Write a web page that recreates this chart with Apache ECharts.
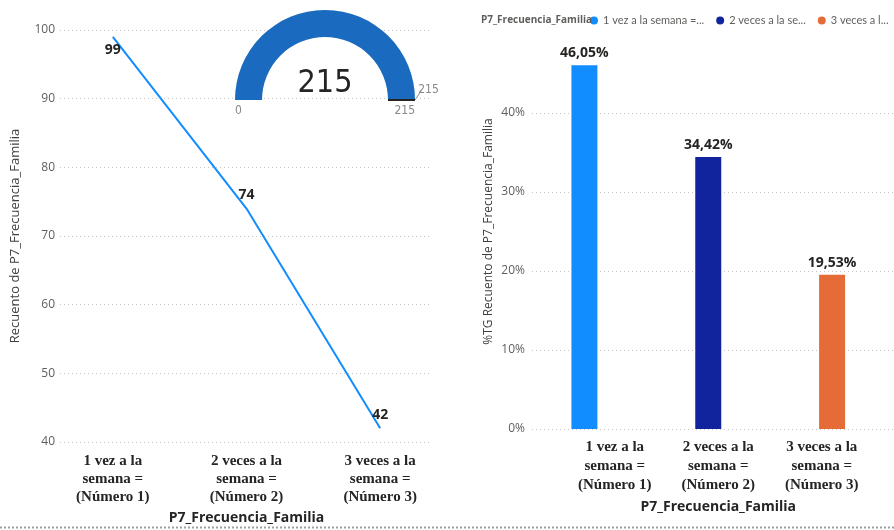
<!DOCTYPE html>
<html>
<head>
<meta charset="utf-8">
<script src="https://cdn.jsdelivr.net/npm/echarts@6/dist/echarts.min.js"></script>
<style>
  html, body { margin: 0; padding: 0; background: #ffffff; }
  #chart { width: 894px; height: 530px; }
</style>
</head>
<body>
<div id="chart"></div>
<script>
// Frequency of family contact: category names, counts and share of total
const categories = [
  '1 vez a la semana = (Número 1)',
  '2 veces a la semana = (Número 2)',
  '3 veces a la semana = (Número 3)'
];
const categoryLabels = [
  '1 vez a la\nsemana =\n(Número 1)',
  '2 veces a la\nsemana =\n(Número 2)',
  '3 veces a la\nsemana =\n(Número 3)'
];
const counts = [99, 74, 42];
const countLabelPos = ['bottom', 'top', 'top'];
const totalCount = [215];
const gaugeRange = [0, 215];
const gaugeTarget = [215];
const sharePct = [46.05, 34.42, 19.53];
const barColors = ['#118DFF', '#12239E', '#E66C37'];
const legendTextWidths = [104, 82, 64];
const countAxis = { min: 40, max: 100, step: 10 };
const pctAxis = { min: 0, max: 50, step: 10 };

const fieldName = 'P7_Frecuencia_Familia';
const SANS = '"Segoe UI", "Open Sans", "Noto Sans", sans-serif';
const SMALL = '"Segoe UI", Lato, "Open Sans", sans-serif';
const SERIF = '"Times New Roman", "Liberation Serif", serif';
const NARROW = '"Liberation Sans Narrow", "DejaVu Sans Condensed", sans-serif';
const gridLine = { lineStyle: { color: '#C8C6C4', type: [1, 3], width: 1 } };

const chart = echarts.init(document.getElementById('chart'), null, { renderer: 'canvas' });

const pctFmt = v => v.toFixed(2).replace('.', ',') + '%';

const option = {
  animation: false,
  backgroundColor: '#ffffff',
  title: {
    text: fieldName,
    left: 481, top: 15, padding: 0,
    textStyle: { fontFamily: SANS, fontSize: 10, fontWeight: 'bold', color: '#605E5C' }
  },
  legend: {
    left: 590, top: 15, padding: 0,
    icon: 'circle', itemWidth: 8, itemHeight: 8, itemGap: 12,
    textStyle: { fontFamily: SMALL, fontSize: 11, color: '#605E5C' },
    data: categories.map((name, i) => ({
      name,
      textStyle: { width: legendTextWidths[i], overflow: 'truncate', ellipsis: '...' }
    }))
  },
  grid: [
    // left chart: gridline frame, then data area
    { left: 60, right: 462, top: 30, bottom: 88 },
    { left: 46, right: 447, top: 30, bottom: 88 },
    // right chart: gridline frame, bar area, category label area
    { left: 532, right: 0, top: 34, bottom: 101 },
    { left: 522.5, width: 387, top: 34, bottom: 101 },
    { left: 563, width: 310.5, top: 34, bottom: 101 }
  ],
  xAxis: [
    { gridIndex: 0, type: 'category', data: categories, show: false },
    {
      gridIndex: 1, type: 'category', data: categoryLabels, boundaryGap: true,
      axisLine: { show: false }, axisTick: { show: false },
      axisLabel: { fontFamily: SERIF, fontWeight: 'bold', fontSize: 15, lineHeight: 18, color: '#252423', margin: 10 },
      name: fieldName, nameLocation: 'middle', nameGap: 64,
      nameTextStyle: { fontFamily: SANS, fontWeight: 'bold', fontSize: 14, color: '#252423' }
    },
    { gridIndex: 2, type: 'category', data: categories, show: false },
    { gridIndex: 3, type: 'category', data: categories, show: false },
    {
      gridIndex: 4, type: 'category', data: categoryLabels, boundaryGap: true,
      axisLine: { show: false }, axisTick: { show: false },
      axisLabel: { fontFamily: SERIF, fontWeight: 'bold', fontSize: 15, lineHeight: 19, color: '#252423', margin: 9 },
      name: fieldName, nameLocation: 'middle', nameGap: 61,
      nameTextStyle: { fontFamily: SANS, fontWeight: 'bold', fontSize: 14, color: '#252423' }
    }
  ],
  yAxis: [
    {
      gridIndex: 0, type: 'value', min: countAxis.min, max: countAxis.max, interval: countAxis.step,
      axisLine: { show: false }, axisTick: { show: false },
      axisLabel: { fontFamily: SANS, fontSize: 12, color: '#605E5C', margin: 5 },
      splitLine: gridLine,
      name: 'Recuento de ' + fieldName, nameLocation: 'middle', nameGap: 38,
      nameTextStyle: { fontFamily: SANS, fontSize: 13, color: '#404040' }
    },
    { gridIndex: 1, type: 'value', min: countAxis.min, max: countAxis.max, show: false },
    {
      gridIndex: 2, type: 'value', min: pctAxis.min, max: pctAxis.max, interval: pctAxis.step,
      axisLine: { show: false }, axisTick: { show: false },
      axisLabel: { fontFamily: SANS, fontSize: 12, color: '#605E5C', margin: 7, formatter: '{value}%', showMaxLabel: false },
      splitLine: Object.assign({ showMaxLine: false }, gridLine),
      name: '%TG Recuento de ' + fieldName, nameLocation: 'middle', nameGap: 37,
      nameTextStyle: { fontFamily: SANS, fontSize: 12, color: '#404040' }
    },
    { gridIndex: 3, type: 'value', min: pctAxis.min, max: pctAxis.max, show: false },
    { gridIndex: 4, type: 'value', min: pctAxis.min, max: pctAxis.max, show: false }
  ],
  series: [
    {
      type: 'line', xAxisIndex: 1, yAxisIndex: 1,
      data: counts.map((v, i) => ({ value: v, label: { position: countLabelPos[i] } })),
      showSymbol: true, symbol: 'circle', symbolSize: 1,
      itemStyle: { color: 'rgba(17,141,255,0)' },
      lineStyle: { color: '#118DFF', width: 2 },
      label: { show: true, fontFamily: SANS, fontWeight: 'bold', fontSize: 14, color: '#252423', distance: 6 }
    },
    {
      type: 'gauge', center: [325, 100], radius: 90,
      startAngle: 180, endAngle: 0, min: gaugeRange[0], max: gaugeRange[1], splitNumber: 1,
      progress: { show: true, width: 27, itemStyle: { color: '#1A6BC0' } },
      axisLine: { lineStyle: { width: 27, color: [[1, '#E1DFDD']] } },
      pointer: { show: false }, anchor: { show: false },
      axisTick: { show: false },
      splitLine: { show: false, length: 0, distance: 0 },
      axisLabel: {
        distance: 0, fontFamily: NARROW, fontSize: 12, color: '#8A8886', lineHeight: 22,
        formatter: v => '\n' + v
      },
      title: { show: false },
      detail: {
        offsetCenter: [0, '-18%'], fontFamily: NARROW, fontSize: 32, fontWeight: 'normal', color: '#252423',
        formatter: '{value}'
      },
      data: [{ value: totalCount[0] }]
    },
    {
      // target marker with its value label
      type: 'gauge', center: [325, 100], radius: 90,
      startAngle: 180, endAngle: 0, min: gaugeRange[0], max: gaugeRange[1],
      axisLine: { show: false }, axisTick: { show: false }, splitLine: { show: false },
      axisLabel: { show: false }, progress: { show: false }, anchor: { show: false },
      pointer: { show: true, icon: 'rect', length: 27, width: 2, offsetCenter: [0, '-70%'], itemStyle: { color: '#252423' } },
      title: { show: false },
      detail: { offsetCenter: ['115%', '-11%'], fontFamily: NARROW, fontSize: 12, fontWeight: 'normal', color: '#8A8886', formatter: '{value}' },
      data: [{ value: gaugeTarget[0] }]
    }
  ].concat(categories.map((name, i) => ({
    type: 'bar', name, xAxisIndex: 3, yAxisIndex: 3, stack: 'share',
    barWidth: 26,
    itemStyle: { color: barColors[i] },
    data: sharePct.map((v, j) => (j === i ? v : '-')),
    label: {
      show: true, position: 'top', distance: 5,
      fontFamily: SANS, fontWeight: 'bold', fontSize: 14, color: '#252423',
      formatter: p => pctFmt(p.value)
    }
  }))),
  graphic: [
    {
      // leader from the arc end to the target value
      type: 'line', silent: true,
      shape: { x1: 415, y1: 100, x2: 421, y2: 91 },
      style: { stroke: '#8A8886', lineWidth: 1 }
    },
    {
      type: 'line', silent: true,
      shape: { x1: 0, y1: 527.5, x2: 894, y2: 527.5 },
      style: { stroke: '#A19F9D', lineWidth: 2, lineDash: [2, 2] }
    }
  ]
};

chart.setOption(option);
</script>
</body>
</html>
